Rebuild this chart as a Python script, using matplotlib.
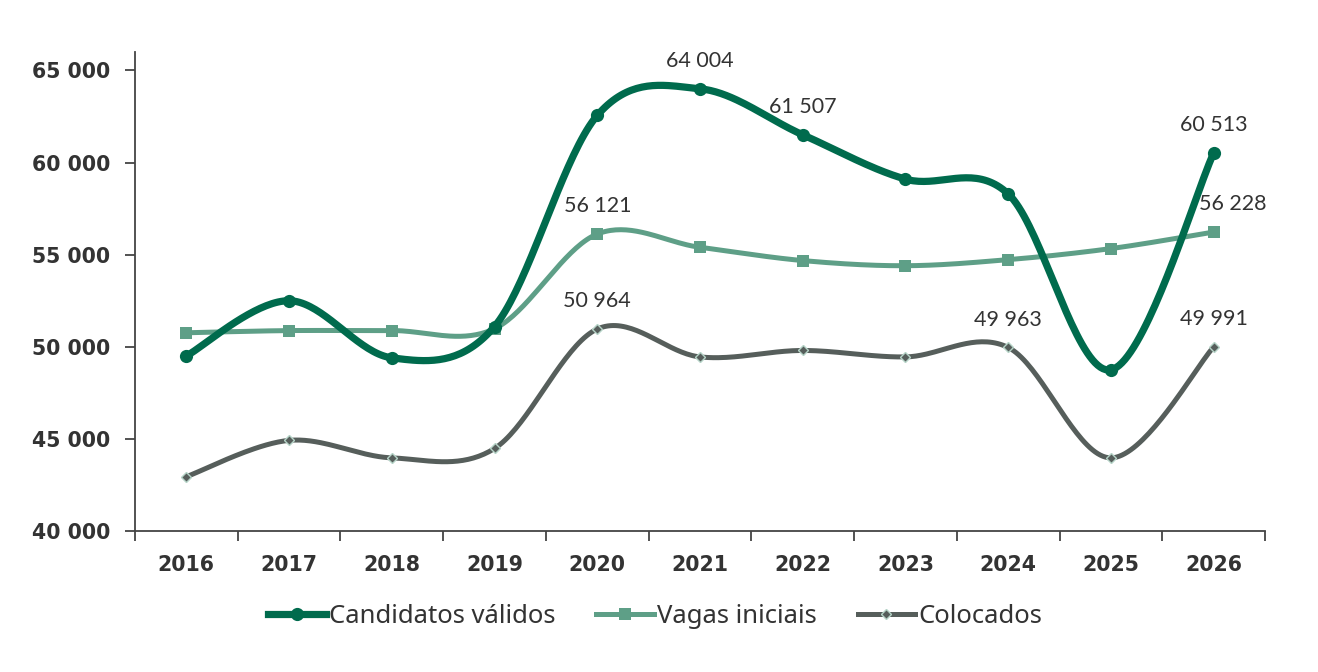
import numpy as np
import matplotlib
matplotlib.use("Agg")
import matplotlib.pyplot as plt
from matplotlib.lines import Line2D
from matplotlib import font_manager

years = ["2016", "2017", "2018", "2019", "2020", "2021", "2022", "2023", "2024", "2025", "2026"]
candidatos = [49500, 52500, 49400, 51100, 62560, 64004, 61507, 59100, 58300, 48750, 60513]
vagas = [50760, 50880, 50880, 50980, 56121, 55400, 54680, 54400, 54730, 55330, 56228]
colocados = [42950, 44920, 43970, 44480, 50964, 49450, 49800, 49450, 49963, 43970, 49991]

series_names = ["Candidatos válidos", "Vagas iniciais", "Colocados"]
yticks = [40000, 45000, 50000, 55000, 60000, 65000]

# labels shown: (series index, point index)
shown_labels = [(0, 5), (0, 6), (0, 10), (1, 4), (1, 10), (2, 4), (2, 8), (2, 10)]

c_cand = "#006B4D"
c_vag = "#5E9F87"
c_col = "#565E5B"

avail = {f.name for f in font_manager.fontManager.ttflist}
narrow = "Liberation Sans Narrow" if "Liberation Sans Narrow" in avail else "Noto Sans"
legend_size = 18 if narrow == "Liberation Sans Narrow" else 18.5


def fmt(v):
    return f"{int(round(v)):,}".replace(",", " ")


def smooth(xs, ys, n=40):
    # Excel-style smoothed line (Catmull-Rom Bezier)
    xs = np.asarray(xs, float)
    ys = np.asarray(ys, float)
    P = np.column_stack([xs, ys])
    out = []
    m = len(P)
    t = np.linspace(0, 1, n)[:, None]
    for i in range(m - 1):
        p0 = P[i - 1] if i > 0 else P[i]
        p1 = P[i]
        p2 = P[i + 1]
        p3 = P[i + 2] if i + 2 < m else P[i + 1]
        c1 = p1 + (p2 - p0) / 6.0
        c2 = p2 - (p3 - p1) / 6.0
        seg = ((1 - t) ** 3) * p1 + 3 * ((1 - t) ** 2) * t * c1 + 3 * (1 - t) * t ** 2 * c2 + t ** 3 * p2
        out.append(seg if i == 0 else seg[1:])
    out = np.vstack(out)
    return out[:, 0], out[:, 1]


fig = plt.figure(figsize=(13.18, 6.72), dpi=100)
ax = fig.add_axes([0.1024, 0.2098, 0.8574, 0.7128])

x = np.arange(len(years))

styles = [
    dict(data=candidatos, color=c_cand, lw=5.2, marker="o", ms=9.5, mfc=c_cand, mec=c_cand, mew=0),
    dict(data=vagas, color=c_vag, lw=3.6, marker="s", ms=8, mfc=c_vag, mec=c_vag, mew=0),
    dict(data=colocados, color=c_col, lw=3.6, marker="D", ms=5.5, mfc=c_col, mec="#b5d3c7", mew=1.0),
]

for z, s in zip([4, 3, 2], styles):
    sx, sy = smooth(x, s["data"])
    ax.plot(sx, sy, color=s["color"], lw=s["lw"], solid_capstyle="round", zorder=z)
    ax.plot(x, s["data"], linestyle="none", marker=s["marker"], ms=s["ms"], mfc=s["mfc"],
            mec=s["mec"], mew=s["mew"], zorder=z + 0.5)

all_series = [candidatos, vagas, colocados]
for si, pi in shown_labels:
    v = all_series[si][pi]
    dx = 14 if (si == 1 and pi == 10) else 0
    ax.annotate(fmt(v), (x[pi], v), xytext=(dx, 20), textcoords="offset points",
                ha="center", va="center", fontsize=15.5, color="#333333", family="Lato")

tick_font = dict(fontsize=14.8, fontweight="bold", color="#333333", family="DejaVu Sans")
ax.set_xlim(-0.5, len(years) - 0.5)
ax.set_ylim(40000, 66000)
ax.set_yticks(yticks)
ax.set_yticklabels([fmt(v) for v in yticks], **tick_font)
ax.set_xticks(x)
ax.set_xticklabels(years, **tick_font)
ax.set_xticks(np.arange(-0.5, len(years) + 0.5, 1), minor=True)
ax.tick_params(axis="x", which="major", length=0, pad=17)
ax.tick_params(axis="x", which="minor", length=7, width=1.3, color="#444444", direction="out")
ax.tick_params(axis="y", which="major", length=7, width=1.3, color="#444444", direction="out", pad=11)

for side in ["top", "right"]:
    ax.spines[side].set_visible(False)
for side in ["left", "bottom"]:
    ax.spines[side].set_color("#444444")
    ax.spines[side].set_linewidth(1.3)

handles = [
    Line2D([0], [0], color=c_cand, lw=5.2, marker="o", ms=9.5, mew=0),
    Line2D([0], [0], color=c_vag, lw=3.6, marker="s", ms=8, mew=0),
    Line2D([0], [0], color=c_col, lw=3.6, marker="D", ms=5.5, mfc=c_col, mec="#b5d3c7", mew=1.0),
]
fig.legend(handles, series_names, loc="center", bbox_to_anchor=(0.497, 0.083), ncol=3,
           frameon=False, handlelength=2.25, handletextpad=0.1, columnspacing=1.6,
           prop={"family": narrow, "size": legend_size}, labelcolor="#333333")

fig.savefig("out.png", dpi=100)
